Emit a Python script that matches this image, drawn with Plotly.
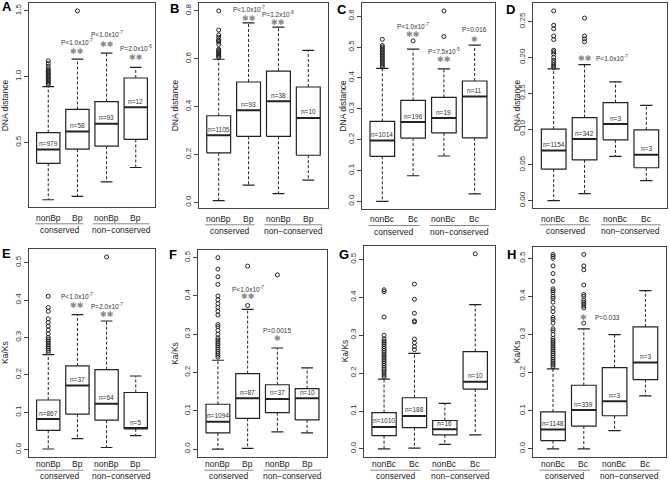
import plotly.graph_objects as go

# ---------------- data ----------------
positions = [1, 2, 3, 4]
labels_Bp = ["nonBp", "Bp", "nonBp", "Bp"]
labels_Bc = ["nonBc", "Bc", "nonBc", "Bc"]
group_labels = ["conserved", "non\u2212conserved"]

# Panel A (DNA distance, Bp)
A_lower  = [0.065, 0.090, 0.200, 0.310]
A_q1     = [0.342, 0.449, 0.472, 0.523]
A_median = [0.447, 0.583, 0.643, 0.768]
A_q3     = [0.575, 0.751, 0.811, 0.990]
A_upper  = [0.924, 1.133, 1.179, 1.070]
A_n      = [979, 58, 93, 12]
A_out    = [[0.94, 0.95, 0.96, 0.97, 0.98, 0.99, 1.00, 1.01, 1.02, 1.03, 1.04, 1.05, 1.06, 1.08, 1.10, 1.12],
            [1.50], [], []]
A_ptext  = ["", "P<1.0x10<sup>-7</sup>", "P<1.0x10<sup>-7</sup>", "P=2.0x10<sup>-6</sup>"]
A_stars  = ["", "\u2731\u2731", "\u2731\u2731", "\u2731\u2731"]
A_yticks = [0.5, 1.0, 1.5]

# Panel B (DNA distance, Bp)
B_lower  = [0.007, 0.072, 0.037, 0.093]
B_q1     = [0.207, 0.276, 0.276, 0.197]
B_median = [0.280, 0.385, 0.422, 0.353]
B_q3     = [0.362, 0.503, 0.548, 0.482]
B_upper  = [0.598, 0.750, 0.732, 0.635]
B_n      = [1105, 93, 38, 10]
B_out    = [[0.605, 0.61, 0.615, 0.62, 0.625, 0.63, 0.635, 0.64, 0.66, 0.67, 0.675, 0.68, 0.69, 0.70, 0.72, 0.80],
            [], [], []]
B_ptext  = ["", "P<1.0x10<sup>-7</sup>", "P=1.2x10<sup>-6</sup>", ""]
B_stars  = ["", "\u2731\u2731", "\u2731\u2731", ""]
B_yticks = [0.0, 0.2, 0.4, 0.6, 0.8]

# Panel C (DNA distance, Bc)
C_lower  = [0.000, 0.083, 0.147, 0.024]
C_q1     = [0.146, 0.205, 0.222, 0.206]
C_median = [0.197, 0.257, 0.270, 0.340]
C_q3     = [0.259, 0.327, 0.337, 0.390]
C_upper  = [0.431, 0.493, 0.429, 0.506]
C_n      = [1014, 196, 19, 11]
C_out    = [[0.435, 0.44, 0.445, 0.45, 0.455, 0.46, 0.465, 0.47, 0.475, 0.48, 0.485, 0.49, 0.495, 0.50, 0.505, 0.525],
            [0.520], [0.534, 0.617], []]
C_ptext  = ["", "P<1.0x10<sup>-7</sup>", "P=7.5x10<sup>-5</sup>", "P=0.016"]
C_stars  = ["", "\u2731\u2731", "\u2731\u2731", "\u2731"]
C_yticks = [0.0, 0.1, 0.2, 0.3, 0.4, 0.5, 0.6]

# Panel D (DNA distance, Bc)
D_lower  = [0.000, 0.010, 0.062, 0.028]
D_q1     = [0.044, 0.057, 0.085, 0.046]
D_median = [0.070, 0.086, 0.107, 0.064]
D_q3     = [0.100, 0.116, 0.137, 0.099]
D_upper  = [0.184, 0.190, 0.166, 0.133]
D_n      = [1154, 342, 3, 3]
D_out    = [[0.186, 0.188, 0.190, 0.193, 0.196, 0.200, 0.205, 0.208, 0.210, 0.225, 0.230, 0.240, 0.245, 0.265],
            [0.222, 0.226, 0.230, 0.255], [], []]
D_ptext  = ["", "P<1.0x10<sup>-7</sup>", "", ""]
D_stars  = ["", "\u2731\u2731", "", ""]
D_yticks = [0.00, 0.05, 0.10, 0.15, 0.20, 0.25]

# Panel E (Ka/Ks, Bp)
E_lower  = [0.002, 0.030, 0.006, 0.038]
E_q1     = [0.052, 0.095, 0.079, 0.056]
E_median = [0.082, 0.172, 0.123, 0.058]
E_q3     = [0.133, 0.224, 0.214, 0.153]
E_upper  = [0.254, 0.361, 0.344, 0.197]
E_n      = [867, 37, 64, 5]
E_out    = [[0.26, 0.265, 0.27, 0.275, 0.28, 0.285, 0.29, 0.295, 0.30, 0.31, 0.32, 0.33, 0.34, 0.35, 0.37, 0.38, 0.41],
            [], [0.515], []]
E_ptext  = ["", "P<1.0x10<sup>-7</sup>", "P=2.0x10<sup>-7</sup>", ""]
E_stars  = ["", "\u2731\u2731", "\u2731\u2731", ""]

# Panel F (Ka/Ks, Bp)
F_lower  = [0.000, 0.002, 0.045, 0.042]
F_q1     = [0.042, 0.080, 0.095, 0.076]
F_median = [0.071, 0.133, 0.131, 0.133]
F_q3     = [0.117, 0.197, 0.168, 0.158]
F_upper  = [0.232, 0.365, 0.264, 0.212]
F_n      = [1094, 87, 37, 10]
F_out    = [[0.24, 0.245, 0.25, 0.255, 0.26, 0.265, 0.27, 0.275, 0.28, 0.285, 0.29, 0.30, 0.31, 0.32, 0.325,
             0.35, 0.36, 0.37, 0.38, 0.39, 0.40, 0.43, 0.45, 0.47, 0.50],
            [0.375, 0.478], [0.455], []]
F_ptext  = ["", "P<1.0x10<sup>-7</sup>", "P=0.0015", ""]
F_stars  = ["", "\u2731\u2731", "\u2731", ""]

# Panel G (Ka/Ks, Bc)
G_lower  = [0.000, 0.002, 0.012, 0.037]
G_q1     = [0.035, 0.056, 0.037, 0.158]
G_median = [0.058, 0.087, 0.052, 0.177]
G_q3     = [0.096, 0.135, 0.075, 0.257]
G_upper  = [0.184, 0.252, 0.120, 0.381]
G_n      = [1010, 188, 16, 10]
G_out    = [[0.19, 0.195, 0.20, 0.205, 0.21, 0.215, 0.22, 0.225, 0.23, 0.235, 0.24, 0.245, 0.25, 0.255, 0.26,
             0.265, 0.27, 0.275, 0.28, 0.285, 0.29, 0.30, 0.348, 0.415, 0.42],
            [0.262, 0.270, 0.280, 0.290, 0.335, 0.338, 0.358, 0.395, 0.435], [], [0.515]]
G_ptext  = ["", "", "", ""]
G_stars  = ["", "", "", ""]

# Panel H (Ka/Ks, Bc)
H_lower  = [0.000, 0.000, 0.048, 0.139]
H_q1     = [0.022, 0.060, 0.087, 0.182]
H_median = [0.051, 0.102, 0.125, 0.227]
H_q3     = [0.097, 0.167, 0.213, 0.320]
H_upper  = [0.210, 0.315, 0.300, 0.415]
H_n      = [1148, 339, 3, 3]
H_out    = [[0.215, 0.22, 0.225, 0.23, 0.235, 0.24, 0.245, 0.25, 0.255, 0.26, 0.265, 0.27, 0.275, 0.28, 0.285,
             0.29, 0.30, 0.31, 0.315, 0.33, 0.34, 0.345, 0.36, 0.37, 0.385, 0.395, 0.40, 0.41, 0.415, 0.42,
             0.44, 0.46, 0.48, 0.50, 0.505, 0.51],
            [0.33, 0.37, 0.375, 0.38, 0.385, 0.39, 0.40, 0.405, 0.43, 0.47, 0.48, 0.51], [], []]
H_ptext  = ["", "P=0.033", "", ""]
H_stars  = ["", "\u2731", "", ""]

KaKs_yticks = [0.0, 0.1, 0.2, 0.3, 0.4, 0.5]

# ---------------- layout geometry (pixels in a 670x482 page) ----------------
W, H = 670, 482
panel_box = {  # left, right, top, bottom
    "A": (29, 155, 3.3, 207.3), "B": (199, 328, 3.3, 208.3),
    "C": (362, 495, 3.3, 209), "D": (533.3, 666.7, 3.3, 208.3),
    "E": (29, 155, 249.3, 456.7), "F": (198.3, 326.7, 250, 456.7),
    "G": (364, 495.3, 246, 456.7), "H": (532.7, 665.7, 246.7, 456.7),
}
letter_pos = {"A": (7, 7), "B": (175, 8), "C": (342, 9), "D": (510, 9),
              "E": (6, 253), "F": (173, 254), "G": (344, 254), "H": (511, 254)}
ytitle_x = {"A": 5, "B": 174.5, "C": 343.5, "D": 516.5,
            "E": 5, "F": 175.5, "G": 345, "H": 516.5}
# annotation heights (data units) for p-value texts and stars
star_y = {"A": [None, 1.19, 1.247, 1.146], "B": [None, 0.768, 0.752, None],
          "C": [None, 0.541, 0.461, 0.525], "D": [None, 0.198, None, None],
          "E": [None, 0.385, 0.361, None], "F": [None, 0.398, 0.289, None],
          "G": [None] * 4, "H": [None, 0.344, None, None]}
p_y = {"A": [None, 1.266, 1.324, 1.219], "B": [None, 0.806, 0.787, None],
       "C": [None, 0.568, 0.487, 0.557], "D": [None, 0.199, None, None],
       "E": [None, 0.41, 0.383, None], "F": [None, 0.418, 0.311, None],
       "G": [None] * 4, "H": [None, 0.344, None, None]}
side_style = {"D", "H"}  # star with p-value text to its right

panels = [
    ("A", A_lower, A_q1, A_median, A_q3, A_upper, A_n, A_out, A_ptext, A_stars, A_yticks, ".1f", "DNA distance", labels_Bp),
    ("B", B_lower, B_q1, B_median, B_q3, B_upper, B_n, B_out, B_ptext, B_stars, B_yticks, ".1f", "DNA distance", labels_Bp),
    ("C", C_lower, C_q1, C_median, C_q3, C_upper, C_n, C_out, C_ptext, C_stars, C_yticks, ".1f", "DNA distance", labels_Bc),
    ("D", D_lower, D_q1, D_median, D_q3, D_upper, D_n, D_out, D_ptext, D_stars, D_yticks, ".2f", "DNA distance", labels_Bc),
    ("E", E_lower, E_q1, E_median, E_q3, E_upper, E_n, E_out, E_ptext, E_stars, KaKs_yticks, ".1f", "Ka/Ks", labels_Bp),
    ("F", F_lower, F_q1, F_median, F_q3, F_upper, F_n, F_out, F_ptext, F_stars, KaKs_yticks, ".1f", "Ka/Ks", labels_Bp),
    ("G", G_lower, G_q1, G_median, G_q3, G_upper, G_n, G_out, G_ptext, G_stars, KaKs_yticks, ".1f", "Ka/Ks", labels_Bc),
    ("H", H_lower, H_q1, H_median, H_q3, H_upper, H_n, H_out, H_ptext, H_stars, KaKs_yticks, ".1f", "Ka/Ks", labels_Bc),
]

FONT = "Liberation Sans, Arial, Helvetica, sans-serif"
STAR_FONT = "DejaVu Sans, sans-serif"
LC = "#222222"
FC = "#444444"
XR = [0.34, 4.66]
BOXW = 0.4
CAPW = 0.2

fig = go.Figure()
annotations = []
shapes = []
layout_axes = {}

for k, (name, lo, q1, med, q3, up, ns, outs, ptext, stars, yticks, yfmt, ytitle, xlabels) in enumerate(panels, start=1):
    sfx = "" if k == 1 else str(k)
    xa, ya = "x" + sfx, "y" + sfx
    left, right, top, bottom = panel_box[name]

    # y range, R style (4% extension of data extremes)
    allv = lo + up + [v for o in outs for v in o]
    vmin, vmax = min(allv), max(allv)
    d = vmax - vmin
    yr = [vmin - 0.04 * d, vmax + 0.04 * d]

    layout_axes["xaxis" + sfx] = dict(domain=[left / W, right / W], range=XR, anchor=ya, automargin=False,
                                      showticklabels=False, ticks="", showline=True, mirror=True,
                                      linecolor=FC, linewidth=1, showgrid=False, zeroline=False)
    layout_axes["yaxis" + sfx] = dict(domain=[1 - bottom / H, 1 - top / H], range=yr, anchor=xa,
                                      automargin=False,
                                      tickvals=yticks, tickformat=yfmt, ticks="outside", ticklen=4,
                                      tickcolor=FC, tickangle=-90,
                                      tickfont=dict(size=8, color="#333", family=FONT),
                                      showline=True, mirror=True, linecolor=FC, linewidth=1,
                                      showgrid=False, zeroline=False)

    # boxes
    bx, by, mx, my, wx, wy, cx, cy = [], [], [], [], [], [], [], []
    for p, a, m, b, l, u in zip(positions, q1, med, q3, lo, up):
        bx += [p - BOXW, p + BOXW, p + BOXW, p - BOXW, p - BOXW, None]
        by += [a, a, b, b, a, None]
        mx += [p - BOXW, p + BOXW, None]
        my += [m, m, None]
        wx += [p, p, None, p, p, None]
        wy += [b, u, None, a, l, None]
        cx += [p - CAPW, p + CAPW, None, p - CAPW, p + CAPW, None]
        cy += [u, u, None, l, l, None]
    common = dict(xaxis=xa, yaxis=ya, hoverinfo="skip", showlegend=False, mode="lines")
    fig.add_trace(go.Scatter(x=wx, y=wy, line=dict(color=LC, width=1, dash="3px,2px"), **common))
    fig.add_trace(go.Scatter(x=cx, y=cy, line=dict(color=LC, width=1.2), **common))
    fig.add_trace(go.Scatter(x=bx, y=by, line=dict(color=LC, width=1.2), **common))
    fig.add_trace(go.Scatter(x=mx, y=my, line=dict(color=LC, width=2), **common))

    ox, oy = [], []
    for p, o in zip(positions, outs):
        ox += [p] * len(o)
        oy += o
    fig.add_trace(go.Scatter(x=ox, y=oy, mode="markers", xaxis=xa, yaxis=ya, hoverinfo="skip",
                             showlegend=False,
                             marker=dict(symbol="circle-open", size=4, color=LC, line=dict(width=1, color=LC))))

    # n labels
    for p, m, n in zip(positions, med, ns):
        annotations.append(dict(x=p, y=m, xref=xa, yref=ya, text="n=%d" % n, showarrow=False,
                                xanchor="center", yanchor="middle",
                                yshift=6, font=dict(size=6.5, color="#333", family=FONT)))

    # stars and p-values
    for i, p in enumerate(positions):
        if stars[i]:
            annotations.append(dict(x=p, y=star_y[name][i], xref=xa, yref=ya, text=stars[i],
                                    showarrow=False, xanchor="center", yanchor="middle",
                                    font=dict(size=8, color="#8a8a8a", family=STAR_FONT)))
        if ptext[i]:
            if name in side_style:
                annotations.append(dict(x=p + 0.3, y=p_y[name][i], xref=xa, yref=ya, text=ptext[i],
                                        showarrow=False, xanchor="left", yanchor="middle",
                                        font=dict(size=6.5, color="#333", family=FONT)))
            else:
                annotations.append(dict(x=p, y=p_y[name][i], xref=xa, yref=ya, text=ptext[i],
                                        showarrow=False, xanchor="center", yanchor="middle",
                                        font=dict(size=6.5, color="#333", family=FONT)))

    # x labels, group underline, group labels
    row2 = top > 100
    off_lab, off_line, off_grp = (7.5, 13.5, 19.5) if row2 else (10.5, 16.5, 23)
    for p, lab in zip(positions, xlabels):
        annotations.append(dict(x=p, y=1 - (bottom + off_lab) / H, xref=xa, yref="paper", text=lab,
                                showarrow=False, xanchor="center", yanchor="middle",
                                font=dict(size=8.5, color="#222", family=FONT)))
    for (g0, g1), gc, gl in zip([(0.55, 2.2), (2.53, 4.47)], [1.37, 3.5], group_labels):
        shapes.append(dict(type="line", xref=xa + " domain", yref="paper",
                           x0=(g0 - XR[0]) / (XR[1] - XR[0]), x1=(g1 - XR[0]) / (XR[1] - XR[0]),
                           y0=1 - (bottom + off_line) / H, y1=1 - (bottom + off_line) / H,
                           line=dict(color="#888", width=1)))
        annotations.append(dict(x=gc, y=1 - (bottom + off_grp) / H, xref=xa, yref="paper", text=gl,
                                showarrow=False, xanchor="center", yanchor="middle",
                                font=dict(size=8.5, color="#222", family=FONT)))

    # y title
    annotations.append(dict(x=ytitle_x[name] / W, y=1 - ((top + bottom) / 2) / H, xref="paper", yref="paper",
                            text=ytitle, textangle=-90, showarrow=False, xanchor="center", yanchor="middle",
                            font=dict(size=8.5, color="#222", family=FONT)))
    # panel letter
    lx, ly = letter_pos[name]
    annotations.append(dict(x=lx / W, y=1 - ly / H, xref="paper", yref="paper", text="<b>%s</b>" % name,
                            showarrow=False, xanchor="center", yanchor="middle",
                            font=dict(size=13, color="#000", family=FONT)))

fig.update_layout(width=W, height=H, margin=dict(l=0, r=0, t=0, b=0, autoexpand=False),
                  paper_bgcolor="white", plot_bgcolor="white",
                  font=dict(family=FONT), annotations=annotations, shapes=shapes, **layout_axes)

fig.write_html("out.html", config={"displayModeBar": False},
               post_script="document.body.style.margin='0';document.body.style.overflow='hidden';")
